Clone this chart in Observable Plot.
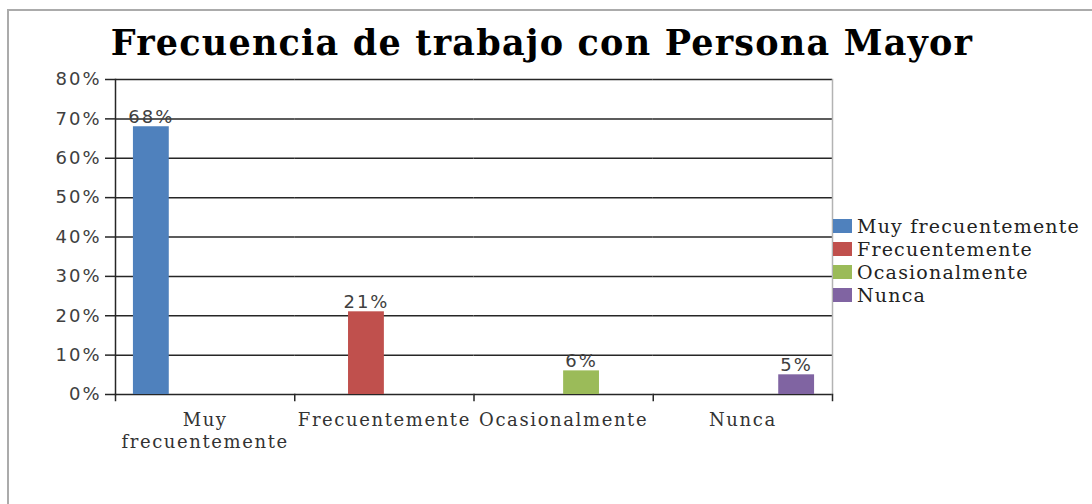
<!DOCTYPE html>
<html>
<head>
<meta charset="utf-8">
<script src="https://cdn.jsdelivr.net/npm/d3@7"></script>
<script src="https://cdn.jsdelivr.net/npm/@observablehq/plot@0.6"></script>
<style>
html, body { margin: 0; padding: 0; width: 1092px; height: 504px; overflow: hidden; background: #fff; }
#border { position: absolute; left: 7px; top: 9px; width: 1300px; height: 800px; border: 2px solid #ababab; box-sizing: border-box; }
#title { position: absolute; left: 0; top: 25px; width: 1084px; text-align: center; font-family: "DejaVu Serif"; font-weight: bold; font-size: 35px; line-height: 35px; letter-spacing: 1.2px; color: #000; white-space: nowrap; }
#chart { position: absolute; left: 0; top: 0; }
#legend { position: absolute; left: 833px; top: 214px; font-family: "DejaVu Serif"; font-size: 19px; letter-spacing: 1.2px; color: #222; }
.item { display: flex; align-items: center; height: 23px; white-space: nowrap; }
.sw { width: 19px; height: 14px; margin-right: 5px; flex: none; }
#chart g[aria-label="y-axis tick label"] text,
#chart g[aria-label="text"] text { letter-spacing: 2px; }
#chart g[aria-label="fx-axis tick label"] text { letter-spacing: 1.6px; }
</style>
</head>
<body>
<div id="border"></div>
<div id="title">Frecuencia de trabajo con Persona Mayor</div>
<div id="chart"></div>
<div id="legend"></div>
<script>
const categories = ["Muy frecuentemente", "Frecuentemente", "Ocasionalmente", "Nunca"];
const categoryLabels = ["Muy\nfrecuentemente", "Frecuentemente", "Ocasionalmente", "Nunca"];
const series = ["Muy frecuentemente", "Frecuentemente", "Ocasionalmente", "Nunca"];
const values = [0.68, 0.21, 0.06, 0.05];
const colors = ["#4F81BD", "#C0504D", "#9BBB59", "#8064A2"];
const yTicks = [0, 0.1, 0.2, 0.3, 0.4, 0.5, 0.6, 0.7, 0.8];

const rows = categories.map((c, i) => ({category: c, series: series[i], value: values[i]}));
const pct = d3.format(".0%");
const dark = "#262626";

const chart = Plot.plot({
  width: 1092,
  height: 504,
  marginLeft: 115,
  marginRight: 260,
  marginTop: 79,
  marginBottom: 110,
  style: {background: "transparent", overflow: "visible"},
  fx: {domain: categories, padding: 0, round: false, label: null},
  x: {domain: series, paddingInner: 0, paddingOuter: 0.5, round: false, axis: null},
  y: {domain: [0, 0.8], label: null},
  color: {domain: series, range: colors},
  marks: [
    Plot.gridY(yTicks, {stroke: dark, strokeOpacity: 1, strokeWidth: 1.5}),
    Plot.frame({anchor: "right", facetAnchor: "right", stroke: "#b3b3b3", strokeWidth: 1.5}),
    Plot.frame({anchor: "left", facetAnchor: "left", stroke: dark, strokeWidth: 1.5}),
    Plot.frame({anchor: "left", insetTop: 315, insetBottom: -6, stroke: dark, strokeWidth: 1.5}),
    Plot.frame({anchor: "right", facetAnchor: "right", insetTop: 315, insetBottom: -6, stroke: dark, strokeWidth: 1.5}),
    Plot.axisY(yTicks, {tickSize: 10, tickPadding: 4, tickFormat: pct, stroke: dark, strokeWidth: 1.5, fill: "#404040", fontSize: 18, fontFamily: "DejaVu Sans", label: null}),
    Plot.axisFx({anchor: "bottom", tickSize: 0, tickPadding: 16, tickFormat: d => categoryLabels[categories.indexOf(d)], fontSize: 18, fontFamily: "DejaVu Serif", fill: "#333", lineHeight: 1.22, label: null}),
    Plot.barY(rows, {fx: "category", x: "series", y: "value", fill: "series"}),
    Plot.text(rows, {fx: "category", x: "series", y: "value", text: d => pct(d.value), dy: -4, lineAnchor: "bottom", fill: "#404040", fontSize: 18, fontFamily: "DejaVu Sans"})
  ]
});
document.getElementById("chart").appendChild(chart);

const legend = d3.select("#legend");
series.forEach((s, i) => {
  const item = legend.append("div").attr("class", "item");
  item.append("div").attr("class", "sw").style("background", colors[i]);
  item.append("span").text(s);
});
</script>
</body>
</html>
